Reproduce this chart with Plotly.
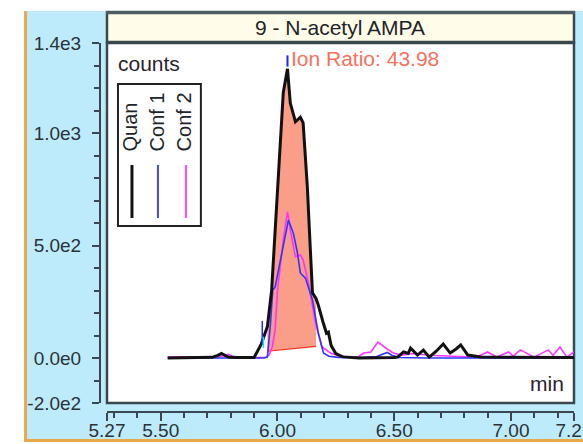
import plotly.graph_objects as go

# ---------------- data ----------------
title_text = "9 - N-acetyl AMPA"
ion_ratio_text = "Ion Ratio: 43.98"
series_names = ["Quan", "Conf 1", "Conf 2"]

quan_x = [5.53, 5.65, 5.72, 5.745, 5.76, 5.775, 5.79, 5.82, 5.87, 5.90, 5.93, 5.957,
          5.975, 5.99, 6.0, 6.013, 6.025, 6.043, 6.055, 6.077, 6.098, 6.11, 6.128,
          6.14, 6.15, 6.165, 6.175, 6.195, 6.21, 6.218, 6.23, 6.25, 6.28, 6.35, 6.45,
          6.50, 6.515, 6.54, 6.56, 6.57, 6.60, 6.625, 6.65, 6.68, 6.71, 6.74, 6.765,
          6.785, 6.815, 6.85, 6.87, 6.95, 7.10, 7.27]
quan_y = [0, 0, 3, 12, 20, 12, 4, 2, 0, 2, 60, 140,
          300, 560, 700, 955, 1180, 1285, 1133, 1050, 1070, 1045, 760,
          500, 290, 265, 235, 160, 110, 115, 55, 20, 5, 0, 0,
          2, 4, 27, 20, 44, 13, 35, 4, 30, 62, 22, 40,
          58, 13, 8, 4, 3, 2, 2]

conf1_x = [5.53, 5.70, 5.80, 5.90, 5.945, 5.957, 5.97, 5.98, 5.99, 6.01, 6.03, 6.047,
           6.068, 6.085, 6.098, 6.12, 6.15, 6.175, 6.197, 6.22, 6.26, 6.35, 6.42, 6.45,
           6.47, 6.49, 6.52, 6.65, 6.85, 7.27]
conf1_y = [0, 0, 0, 0, 0, 5, 150, 302, 315, 420, 520, 613,
           555, 470, 378, 355, 258, 111, 22, 8, 3, 2, 5, 15,
           25, 12, 2, 0, 0, 0]

conf2_x = [5.53, 5.65, 5.74, 5.77, 5.79, 5.81, 5.85, 5.90, 5.95, 5.965, 5.978, 5.99,
           6.0, 6.025, 6.043, 6.055, 6.077, 6.098, 6.11, 6.133, 6.163, 6.19, 6.227,
           6.26, 6.30, 6.343, 6.37, 6.40, 6.43, 6.455, 6.47, 6.497, 6.53, 6.58, 6.65,
           6.75, 6.85, 6.90, 6.94, 6.99, 7.01, 7.04, 7.10, 7.16, 7.18, 7.21, 7.24, 7.27]
conf2_y = [5, 4, 5, 10, 16, 6, 3, 2, 3, 15, 50, 125,
           300, 525, 650, 570, 450, 458, 435, 333, 155, 50, 22,
           10, 5, 4, 22, 27, 71, 49, 40, 22, 13, 20, 12,
           8, 3, 27, 4, 27, 8, 36, 4, 36, 12, 49, 4, 27]

# integration baseline (peak start / end)
base_x = [5.957, 6.165]
base_y = [30, 52]

# peak markers
apex_x = [6.043, 6.043]
apex_y = [1295, 1345]
start_x = [5.935, 5.935]
start_y = [60, 165]
start2_x = [5.94, 5.94]
start2_y = [45, 95]

x_range = [5.27, 7.27]
y_range = [-200, 1400]
x_tickvals = [5.27, 5.50, 6.00, 6.50, 7.00, 7.27]
x_ticktext = ["5.27", "5.50", "6.00", "6.50", "7.00", "7.27"]
x_minor = [round(5.3 + 0.1 * i, 2) for i in range(20)]
y_tickvals = [-200, 0, 500, 1000, 1400]
y_ticktext = ["-2.0e2", "0.0e0", "5.0e2", "1.0e3", "1.4e3"]
y_minor = list(range(-200, 1401, 100))

# ---------------- layout geometry ----------------
W, H = 583, 444
L, R, T, B = 100, 8.5, 43, 32
PW = W - L - R
PH = H - T - B


def pxX(px):
    return (px - L) / PW


def pyY(py):
    return (H - B - py) / PH


FONT = "Liberation Sans, Arial, sans-serif"
AXC = "#3A474E"
TXT = "#2B3238"

# segment of the Quan trace inside the integrated region
seg_x = [x for x in quan_x if base_x[0] <= x <= base_x[1]]
seg_y = [y for x, y in zip(quan_x, quan_y) if base_x[0] <= x <= base_x[1]]

fig = go.Figure()
fig.add_trace(go.Scatter(x=base_x, y=base_y, mode="lines", line=dict(width=0),
                         showlegend=False, hoverinfo="skip"))
fig.add_trace(go.Scatter(x=seg_x, y=seg_y, mode="lines", line=dict(width=0),
                         fill="tonexty", fillcolor="rgb(250,158,138)",
                         showlegend=False, hoverinfo="skip"))
fig.add_trace(go.Scatter(x=base_x, y=base_y, mode="lines",
                         line=dict(color="#FF2A1A", width=1.2), showlegend=False))
fig.add_trace(go.Scatter(x=conf2_x, y=conf2_y, mode="lines", name=series_names[2],
                         line=dict(color="#FF33FF", width=1.6), showlegend=False))
fig.add_trace(go.Scatter(x=conf1_x, y=conf1_y, mode="lines", name=series_names[1],
                         line=dict(color="#3333FF", width=1.6), showlegend=False))
fig.add_trace(go.Scatter(x=quan_x, y=quan_y, mode="lines", name=series_names[0],
                         line=dict(color="#111111", width=3), showlegend=False))
fig.add_trace(go.Scatter(x=apex_x, y=apex_y, mode="lines",
                         line=dict(color="#2222FF", width=2), showlegend=False))
fig.add_trace(go.Scatter(x=start_x, y=start_y, mode="lines",
                         line=dict(color="#2222FF", width=1.5), showlegend=False))
fig.add_trace(go.Scatter(x=start2_x, y=start2_y, mode="lines",
                         line=dict(color="#22DDDD", width=1.5), showlegend=False))

shapes = [
    # light blue panel
    dict(type="rect", xref="paper", yref="paper", x0=pxX(25), x1=pxX(590),
         y0=pyY(441), y1=pyY(11), fillcolor="#BEEBFB", line=dict(width=0), layer="below"),
    # orange borders
    dict(type="line", xref="paper", yref="paper", x0=pxX(25.5), x1=pxX(25.5),
         y0=pyY(441), y1=pyY(11), line=dict(color="#E8A84C", width=3), layer="below"),
    dict(type="line", xref="paper", yref="paper", x0=pxX(24), x1=pxX(590),
         y0=pyY(440.5), y1=pyY(440.5), line=dict(color="#E8A84C", width=3), layer="below"),
    # white plot frame
    dict(type="rect", xref="paper", yref="paper", x0=pxX(107), x1=pxX(574.5),
         y0=pyY(403), y1=pyY(43), fillcolor="white", line=dict(color=AXC, width=2.5),
         layer="below"),
    # title bar
    dict(type="rect", xref="paper", yref="paper", x0=pxX(107), x1=pxX(574.5),
         y0=pyY(42), y1=pyY(12.5), fillcolor="#FFFDE9", line=dict(color=AXC, width=2.5),
         layer="below"),
    dict(type="line", xref="paper", yref="paper", x0=pxX(106), x1=pxX(575.5),
         y0=pyY(12.5), y1=pyY(12.5), line=dict(color="#4E5C63", width=3.5), layer="below"),
    # legend box
    dict(type="rect", xref="paper", yref="paper", x0=pxX(118), x1=pxX(201),
         y0=pyY(226), y1=pyY(84), fillcolor="white", line=dict(color="#222222", width=2),
         layer="below"),
]
legend_line_x = [132, 158, 186]
legend_colors = ["#111111", "#4444FF", "#FF44FF"]
legend_widths = [3, 2, 2]
for lx, c, w in zip(legend_line_x, legend_colors, legend_widths):
    shapes.append(dict(type="line", xref="paper", yref="paper", x0=pxX(lx), x1=pxX(lx),
                       y0=pyY(218), y1=pyY(165), line=dict(color=c, width=w), layer="below"))

annotations = [
    dict(text=title_text, xref="paper", yref="paper", x=pxX(340), y=pyY(27.5),
         xanchor="center", yanchor="middle", showarrow=False,
         font=dict(family=FONT, size=21, color="#1E2428")),
    dict(text="counts", xref="paper", yref="paper", x=pxX(116), y=pyY(64),
         xanchor="left", yanchor="middle", showarrow=False,
         font=dict(family=FONT, size=21, color="#2A2232")),
    dict(text=ion_ratio_text, xref="paper", yref="paper", x=pxX(289), y=pyY(58),
         xanchor="left", yanchor="middle", showarrow=False,
         font=dict(family=FONT, size=21, color="#F7705C")),
    dict(text="min", xref="paper", yref="paper", x=pxX(566), y=pyY(383),
         xanchor="right", yanchor="middle", showarrow=False,
         font=dict(family=FONT, size=21, color="#2A2232")),
]
legend_text_x = [130, 157, 184]
for tx, name in zip(legend_text_x, series_names):
    annotations.append(dict(text=name, xref="paper", yref="paper", x=pxX(tx), y=pyY(153),
                            xanchor="center", yanchor="bottom", textangle=-90,
                            showarrow=False,
                            font=dict(family=FONT, size=20, color="#1E2428")))

fig.update_layout(
    width=W, height=H,
    margin=dict(l=L, r=R, t=T, b=B, pad=0, autoexpand=False),
    paper_bgcolor="white",
    plot_bgcolor="#BEEBFB",
    showlegend=False,
    shapes=shapes,
    annotations=annotations,
    xaxis=dict(
        domain=[pxX(107), 1], range=x_range, anchor="free", position=0,
        automargin=False,
        showgrid=False, zeroline=False, showline=True, linecolor=AXC, linewidth=2,
        ticks="outside", ticklen=8, tickwidth=2, tickcolor=AXC,
        tickmode="array", tickvals=x_tickvals, ticktext=x_ticktext,
        ticklabelstandoff=-7, ticklabeloverflow="allow",
        tickfont=dict(family=FONT, size=19, color=TXT),
        minor=dict(tickmode="array", tickvals=x_minor, ticklen=5, tickwidth=2,
                   tickcolor=AXC, showgrid=False),
    ),
    yaxis=dict(
        domain=[pyY(403), 1], range=y_range, anchor="free", position=0,
        automargin=False,
        showgrid=False, zeroline=False, showline=True, linecolor=AXC, linewidth=2,
        ticks="outside", ticklen=7, tickwidth=2, tickcolor=AXC,
        tickmode="array", tickvals=y_tickvals, ticktext=y_ticktext,
        ticklabelstandoff=7, ticklabeloverflow="allow",
        tickfont=dict(family=FONT, size=19, color=TXT),
        minor=dict(tickmode="array", tickvals=y_minor, ticklen=5, tickwidth=2,
                   tickcolor=AXC, showgrid=False),
    ),
)

fig.write_html("out.html", config={"displayModeBar": False})
